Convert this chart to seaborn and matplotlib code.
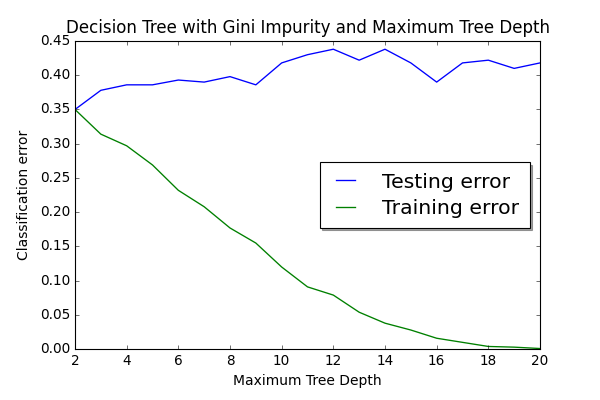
import matplotlib
matplotlib.use("Agg")
import matplotlib.pyplot as plt
import seaborn as sns
import pandas as pd

# values
depths = list(range(2, 21))
testing_error = [0.350, 0.378, 0.386, 0.386, 0.393, 0.390, 0.398, 0.386, 0.418,
                 0.430, 0.438, 0.422, 0.438, 0.418, 0.390, 0.418, 0.422, 0.410, 0.418]
training_error = [0.350, 0.314, 0.297, 0.269, 0.232, 0.208, 0.177, 0.155, 0.120,
                  0.091, 0.079, 0.054, 0.038, 0.028, 0.016, 0.010, 0.004, 0.003, 0.001]

df = pd.DataFrame({"depth": depths, "test": testing_error, "train": training_error})

plt.style.use("classic")
plt.rcParams["font.family"] = ["DejaVu Sans"]

fig, ax = plt.subplots(figsize=(7.5, 5), dpi=80)
fig.patch.set_facecolor("white")
fig.subplots_adjust(left=0.125, right=0.9, top=0.8975, bottom=0.127)

sns.lineplot(data=df, x="depth", y="test", ax=ax, color="b", linewidth=1.2, label="Testing error")
sns.lineplot(data=df, x="depth", y="train", ax=ax, color="g", linewidth=1.2, label="Training error")

ax.set_xlim(2, 20)
ax.set_ylim(0, 0.45)
ax.set_xticks(range(2, 21, 2))
ax.set_yticks([i * 0.05 for i in range(10)])
ax.set_yticklabels([f"{i * 0.05:.2f}" for i in range(10)])
ax.tick_params(labelsize=12.3)
ax.set_xlabel("Maximum Tree Depth", fontsize=12.5, labelpad=6)
ax.set_ylabel("Classification error", fontsize=12.5, labelpad=8)
ax.set_title("Decision Tree with Gini Impurity and Maximum Tree Depth", fontsize=15.0, pad=7)

ax.legend(loc="center right", shadow=True, fancybox=False, fontsize=18.4,
          handlelength=1.5, handletextpad=1.05, borderpad=0.5, labelspacing=0.35,
          borderaxespad=0.5, framealpha=1)

fig.savefig("out.png", dpi=80, facecolor="white")
